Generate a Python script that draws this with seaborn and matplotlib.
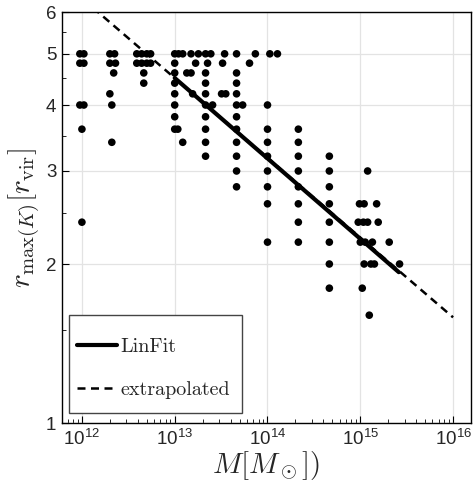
import numpy as np
import pandas as pd
import matplotlib
matplotlib.use("Agg")
import matplotlib.pyplot as plt
from matplotlib.ticker import FixedLocator, NullFormatter, FixedFormatter
from matplotlib.patches import Rectangle
import seaborn as sns

# ---- data ----
r_levels = [5.0, 4.8, 4.6, 4.4, 4.2, 4.0, 3.8, 3.6, 3.4, 3.2, 3.0, 2.8, 2.6, 2.4, 2.2, 2.0, 1.8, 1.6]
mass_r50 = [0.95e12, 1.05e12, 2.0e12, 2.25e12, 3.9e12, 4.4e12, 5.0e12, 5.5e12,
            1e13, 1.1e13, 1.22e13, 1.5e13, 1.8e13, 2.15e13, 2.45e13, 3.45e13, 4.64e13,
            7.4e13, 1.06e14, 1.28e14]
mass_r48 = [0.95e12, 1.05e12, 2.0e12, 2.3e12, 3.9e12, 4.4e12, 5.0e12, 5.5e12,
            1e13, 1.68e13, 2.26e13, 3.28e13, 6.4e13]
mass_r46 = [2.2e12, 4.64e12, 1e13, 1.35e13, 1.5e13, 2.15e13, 4.64e13]
mass_r44 = [4.64e12, 1e13, 2.15e13, 4.64e13]
mass_r42 = [2.0e12, 1e13, 1.56e13, 2.15e13, 3.2e13, 3.55e13, 4.64e13]
mass_r40 = [0.95e12, 1.05e12, 2.1e12, 1e13, 2.15e13, 2.56e13, 4.64e13, 5.4e13, 1e14]
mass_r38 = [1e13, 2.15e13, 4.64e13]
mass_r36 = [1e12, 1e13, 1.08e13, 2.15e13, 4.64e13, 1e14, 2.15e14]
mass_r34 = [2.1e12, 1.22e13, 2.15e13, 4.64e13, 1e14, 2.15e14]
mass_r32 = [2.15e13, 4.64e13, 1e14, 2.15e14, 4.64e14]
mass_r30 = [4.64e13, 1e14, 2.15e14, 4.64e14, 1.2e15]
mass_r28 = [4.64e13, 1e14, 2.15e14, 4.64e14]
mass_r26 = [1e14, 2.15e14, 4.64e14, 0.98e15, 1.1e15, 1.5e15]
mass_r24 = [1e12, 2.15e14, 4.64e14, 0.95e15, 1.08e15, 1.2e15, 1.56e15]
mass_r22 = [1e14, 2.15e14, 4.64e14, 1e15, 1.13e15, 1.35e15, 2.05e15]
mass_r20 = [4.64e14, 1.1e15, 1.3e15, 1.42e15, 2.65e15]
mass_r18 = [4.64e14, 1.05e15]
mass_r16 = [1.25e15]
mass_rows = [mass_r50, mass_r48, mass_r46, mass_r44, mass_r42, mass_r40, mass_r38,
             mass_r36, mass_r34, mass_r32, mass_r30, mass_r28, mass_r26, mass_r24,
             mass_r22, mass_r20, mass_r18, mass_r16]

fit_mass = [1e13, 2.6e15]
fit_r = [4.50, 1.93]
extrap_mass = [1e12, 1e16]
extrap_r = [6.37, 1.585]

x_ticks = [1e12, 1e13, 1e14, 1e15, 1e16]
y_ticks = [1, 2, 3, 4, 5, 6]
y_minor = [1.5, 2.5, 3.5, 4.5, 5.5]

# ---- build table ----
rows = []
for r, ms in zip(r_levels, mass_rows):
    for m in ms:
        rows.append((m, r))
df = pd.DataFrame(rows, columns=["M", "r"])

sns.set_style("white")
plt.rcParams["font.family"] = ["Liberation Sans", "DejaVu Sans"]
plt.rcParams["mathtext.fontset"] = "cm"

fig = plt.figure(figsize=(4.74, 4.90), dpi=100)
ax = fig.add_axes([62/474, 1-423/490, 409/474, 411/490])
ax.set_xscale("log")
ax.set_yscale("log")

ax.grid(True, which="major", color="#e3e3e3", linewidth=0.9)
ax.set_axisbelow(True)

sns.scatterplot(data=df, x="M", y="r", ax=ax, color="black", s=30,
                edgecolor="none", linewidth=0, zorder=3, legend=False)

ax.plot(extrap_mass, extrap_r, color="black", linestyle=(0, (3.2, 2.2)), linewidth=1.8,
        label="extrapolated", zorder=4)
ax.plot(fit_mass, fit_r, color="black", linestyle="-", linewidth=3.0,
        label="LinFit", zorder=5)

ax.set_xlim(6.1e11, 1.56e16)
ax.set_ylim(1, 6)
ax.xaxis.set_major_locator(FixedLocator(x_ticks))
ax.yaxis.set_major_locator(FixedLocator(y_ticks))
ax.yaxis.set_major_formatter(FixedFormatter([str(v) for v in y_ticks]))
ax.yaxis.set_minor_locator(FixedLocator(y_minor))
ax.yaxis.set_minor_formatter(NullFormatter())

ax.tick_params(which="both", direction="in", labelsize=13.5, color="black",
               top=False, right=False, bottom=True, left=True)
ax.tick_params(which="major", length=5, width=0.8, pad=4)
ax.tick_params(which="minor", length=3, width=0.6)
for s in ax.spines.values():
    s.set_color("black")
    s.set_linewidth(1.0)

ax.set_xlabel(r"$M[M_\odot])$", fontsize=21, labelpad=0)
ax.set_ylabel(r"$r_{\max(K)}[r_{\rm vir}]$", fontsize=21, labelpad=2)

# legend frame drawn as a plain box, legend entries placed inside it
ax.add_patch(Rectangle((7/409, 10/411), 173/409, 98/411, transform=ax.transAxes,
                       facecolor="white", edgecolor="#444444", linewidth=1.0, zorder=6))
handles, labels = ax.get_legend_handles_labels()
order = [labels.index("LinFit"), labels.index("extrapolated")]
leg = ax.legend([handles[i] for i in order], [labels[i] for i in order],
                loc="lower left", bbox_to_anchor=(15/409, 24/411), borderaxespad=0,
                prop={"family": "cmr10", "size": 14.5}, frameon=False,
                handlelength=2.0, labelspacing=1.25, borderpad=0, handletextpad=0.15)
leg.set_zorder(7)

fig.savefig("out.png", dpi=100)
